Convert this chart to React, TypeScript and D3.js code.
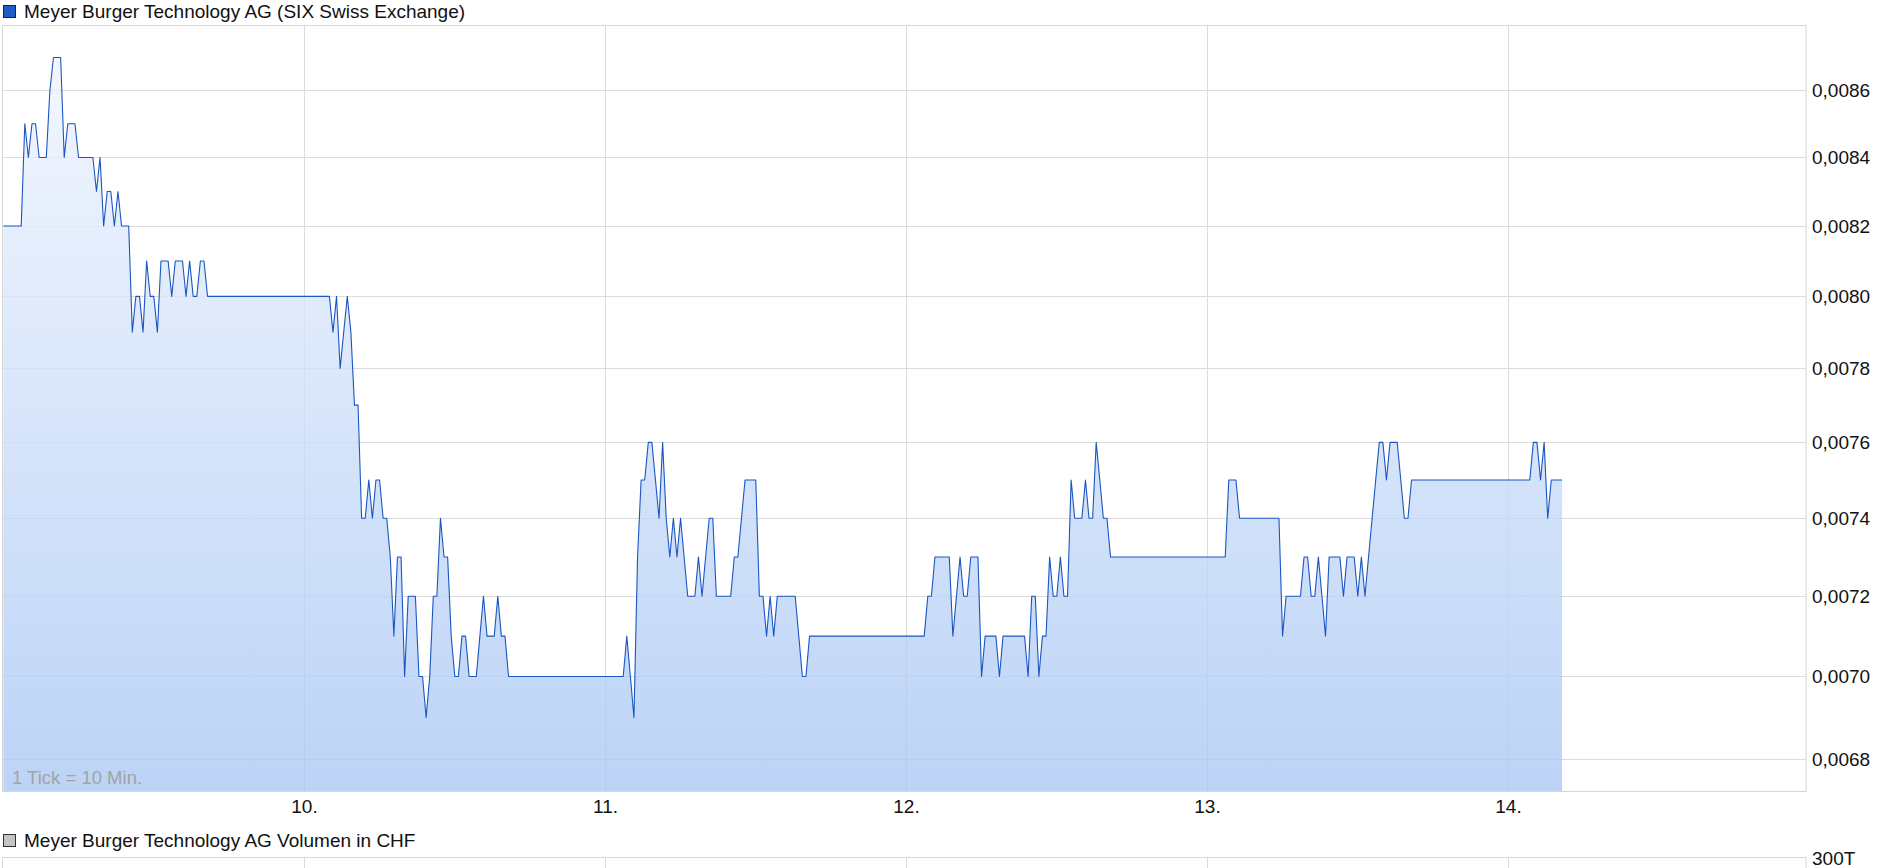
import React from 'react';
import * as d3 from 'd3';

const TITLE = 'Meyer Burger Technology AG (SIX Swiss Exchange)';
const VOLUME_TITLE = 'Meyer Burger Technology AG Volumen in CHF';
const TICK_NOTE = '1 Tick = 10 Min.';
const dayLabels = ['10.', '11.', '12.', '13.', '14.'];
const priceTicks = [0.0068, 0.007, 0.0072, 0.0074, 0.0076, 0.0078, 0.008, 0.0082, 0.0084, 0.0086];
const volumeTopLabel = '300T';

// previous close carried into the first pre-open ticks
const prevClose = 0.0082;

// 10-minute ticks from 09:00 to 17:30 for each session
const day09 = [
  0.0085, 0.0084, 0.0085, 0.0085, 0.0084, 0.0084, 0.0084, 0.0086, 0.0087, 0.0087,
  0.0087, 0.0084, 0.0085, 0.0085, 0.0085, 0.0084, 0.0084, 0.0084, 0.0084, 0.0084,
  0.0083, 0.0084, 0.0082, 0.0083, 0.0083, 0.0082, 0.0083, 0.0082, 0.0082, 0.0082,
  0.0079, 0.008, 0.008, 0.0079, 0.0081, 0.008, 0.008, 0.0079, 0.0081, 0.0081,
  0.0081, 0.008, 0.0081, 0.0081, 0.0081, 0.008, 0.0081, 0.008, 0.008, 0.0081,
  0.0081, 0.008,
];
const day10 = [
  0.008, 0.008, 0.0079, 0.008, 0.0078, 0.0079, 0.008, 0.0079, 0.0077, 0.0077,
  0.0074, 0.0074, 0.0075, 0.0074, 0.0075, 0.0075, 0.0074, 0.0074, 0.0073, 0.0071,
  0.0073, 0.0073, 0.007, 0.0072, 0.0072, 0.0072, 0.007, 0.007, 0.0069, 0.007,
  0.0072, 0.0072, 0.0074, 0.0073, 0.0073, 0.0071, 0.007, 0.007, 0.0071, 0.0071,
  0.007, 0.007, 0.007, 0.0071, 0.0072, 0.0071, 0.0071, 0.0071, 0.0072, 0.0071,
  0.0071, 0.007,
];
const day11 = [
  0.0071, 0.007, 0.0069, 0.0073, 0.0075, 0.0075, 0.0076, 0.0076, 0.0075, 0.0074,
  0.0076, 0.0074, 0.0073, 0.0074, 0.0073, 0.0074, 0.0073, 0.0072, 0.0072, 0.0072,
  0.0073, 0.0072, 0.0073, 0.0074, 0.0074, 0.0072, 0.0072, 0.0072, 0.0072, 0.0072,
  0.0073, 0.0073, 0.0074, 0.0075, 0.0075, 0.0075, 0.0075, 0.0072, 0.0072, 0.0071,
  0.0072, 0.0071, 0.0072, 0.0072, 0.0072, 0.0072, 0.0072, 0.0072, 0.0071, 0.007,
  0.007, 0.0071,
];
const day12 = [
  0.0072, 0.0072, 0.0073, 0.0073, 0.0073, 0.0073, 0.0073, 0.0071, 0.0072, 0.0073,
  0.0072, 0.0072, 0.0073, 0.0073, 0.0073, 0.007, 0.0071, 0.0071, 0.0071, 0.0071,
  0.007, 0.0071, 0.0071, 0.0071, 0.0071, 0.0071, 0.0071, 0.0071, 0.007, 0.0072,
  0.0072, 0.007, 0.0071, 0.0071, 0.0073, 0.0072, 0.0072, 0.0073, 0.0072, 0.0072,
  0.0075, 0.0074, 0.0074, 0.0074, 0.0075, 0.0074, 0.0074, 0.0076, 0.0075, 0.0074,
  0.0074, 0.0073,
];
const day13 = [
  0.0075, 0.0075, 0.0075, 0.0074, 0.0074, 0.0074, 0.0074, 0.0074, 0.0074, 0.0074,
  0.0074, 0.0074, 0.0074, 0.0074, 0.0074, 0.0071, 0.0072, 0.0072, 0.0072, 0.0072,
  0.0072, 0.0073, 0.0073, 0.0072, 0.0072, 0.0073, 0.0072, 0.0071, 0.0073, 0.0073,
  0.0073, 0.0073, 0.0072, 0.0073, 0.0073, 0.0073, 0.0072, 0.0073, 0.0072, 0.0073,
  0.0074, 0.0075, 0.0076, 0.0076, 0.0075, 0.0076, 0.0076, 0.0076, 0.0075, 0.0074,
  0.0074, 0.0075,
];
const day14 = [0.0075, 0.0076, 0.0076, 0.0075, 0.0076, 0.0074, 0.0075, 0.0075, 0.0075, 0.0075];

const sessions = [day09, day10, day11, day12, day13, day14];
const TICKS_PER_DAY = 84; // 08:00 - 22:00 in 10 minute ticks
const OPEN_TICK = 6; // 09:00
const Y_DOMAIN: [number, number] = [0.006724, 0.0088];

type Pt = { t: number; v: number };

function buildSeries(): Pt[] {
  const pts: Pt[] = [];
  let last = prevClose;
  sessions.forEach((sess, d) => {
    const isLast = d === sessions.length - 1;
    const endTick = isLast ? OPEN_TICK + sess.length : TICKS_PER_DAY;
    for (let k = 0; k < endTick; k++) {
      if (k >= OPEN_TICK && k < OPEN_TICK + sess.length) last = sess[k - OPEN_TICK];
      pts.push({ t: d * TICKS_PER_DAY + k, v: last });
    }
  });
  return pts;
}

const W = 1880;
const H = 868;
const plotL = 2.5;
const plotR = 1806;
const plotT = 25;
const plotB = 791;
const volT = 857.5;
const FONT = '"Liberation Sans", Arial, sans-serif';
const FS = 19;

export default function App() {
  const data = buildSeries();
  const x = d3.scaleLinear().domain([0, 503]).range([3.3, 1805.7]);
  const y = d3.scaleLog().domain(Y_DOMAIN).range([plotB, plotT]);
  const line = d3.line<Pt>().x((d) => x(d.t)).y((d) => y(d.v));
  const area = d3
    .area<Pt>()
    .x((d) => x(d.t))
    .y0(plotB)
    .y1((d) => y(d.v));
  const fmt = (v: number) => d3.format('.4f')(v).replace('.', ',');
  const dayX = dayLabels.map((_, i) => Math.round(x((i + 1) * TICKS_PER_DAY)) + 0.5);

  return (
    <svg
      width={W}
      height={H}
      style={{ position: 'absolute', left: 0, top: 0, background: '#fff' }}
      fontFamily={FONT}
    >
      <defs>
        <linearGradient id="fillGrad" x1="0" y1={plotT} x2="0" y2={plotB} gradientUnits="userSpaceOnUse">
          <stop offset="0" stopColor="#f2f6fe" />
          <stop offset="1" stopColor="#a9c7f4" />
        </linearGradient>
        <clipPath id="plotClip">
          <rect x={plotL} y={plotT} width={plotR - plotL} height={plotB - plotT} />
        </clipPath>
      </defs>

      {/* legend */}
      <rect x={3.5} y={5.5} width={12} height={12} fill="#1f5cc6" stroke="#222" strokeWidth={1} />
      <text x={24} y={11.5} dominantBaseline="central" fontSize={FS} fill="#111">
        {TITLE}
      </text>

      {/* grid */}
      {priceTicks.map((v) => (
        <line key={v} x1={plotL} x2={plotR} y1={Math.round(y(v)) + 0.5} y2={Math.round(y(v)) + 0.5} stroke="#dcdcdc" />
      ))}
      {dayX.map((xx, i) => (
        <line key={i} x1={xx} x2={xx} y1={plotT} y2={plotB} stroke="#dcdcdc" />
      ))}

      {/* area + line */}
      <g clipPath="url(#plotClip)">
        <path d={area(data) || ''} fill="url(#fillGrad)" opacity={0.78} />
        <path d={line(data) || ''} fill="none" stroke="#1a56c2" strokeWidth={1.1} strokeLinejoin="round" />
      </g>

      {/* plot border */}
      <rect x={plotL} y={plotT + 0.5} width={plotR - plotL} height={plotB - plotT} fill="none" stroke="#d6d6d6" />

      <text x={12} y={777} dominantBaseline="central" fontSize={18.5} fill="#a3a3a3">
        {TICK_NOTE}
      </text>

      {/* y labels */}
      {priceTicks.map((v) => (
        <text key={v} x={1812} y={y(v)} dominantBaseline="central" fontSize={FS} fill="#111">
          {fmt(v)}
        </text>
      ))}

      {/* x labels */}
      {dayLabels.map((lab, i) => (
        <text key={lab} x={dayX[i]} y={806} dominantBaseline="central" textAnchor="middle" fontSize={FS} fill="#111">
          {lab}
        </text>
      ))}

      {/* volume panel */}
      <rect x={3.5} y={834.5} width={12} height={12} fill="#c4c4c4" stroke="#333" strokeWidth={1} />
      <text x={24} y={840} dominantBaseline="central" fontSize={FS} fill="#111">
        {VOLUME_TITLE}
      </text>
      <rect x={plotL} y={volT} width={plotR - plotL} height={40} fill="none" stroke="#d6d6d6" />
      {dayX.map((xx, i) => (
        <line key={i} x1={xx} x2={xx} y1={volT} y2={H} stroke="#dcdcdc" />
      ))}
      <text x={1812} y={858} dominantBaseline="central" fontSize={FS} fill="#111">
        {volumeTopLabel}
      </text>
    </svg>
  );
}
